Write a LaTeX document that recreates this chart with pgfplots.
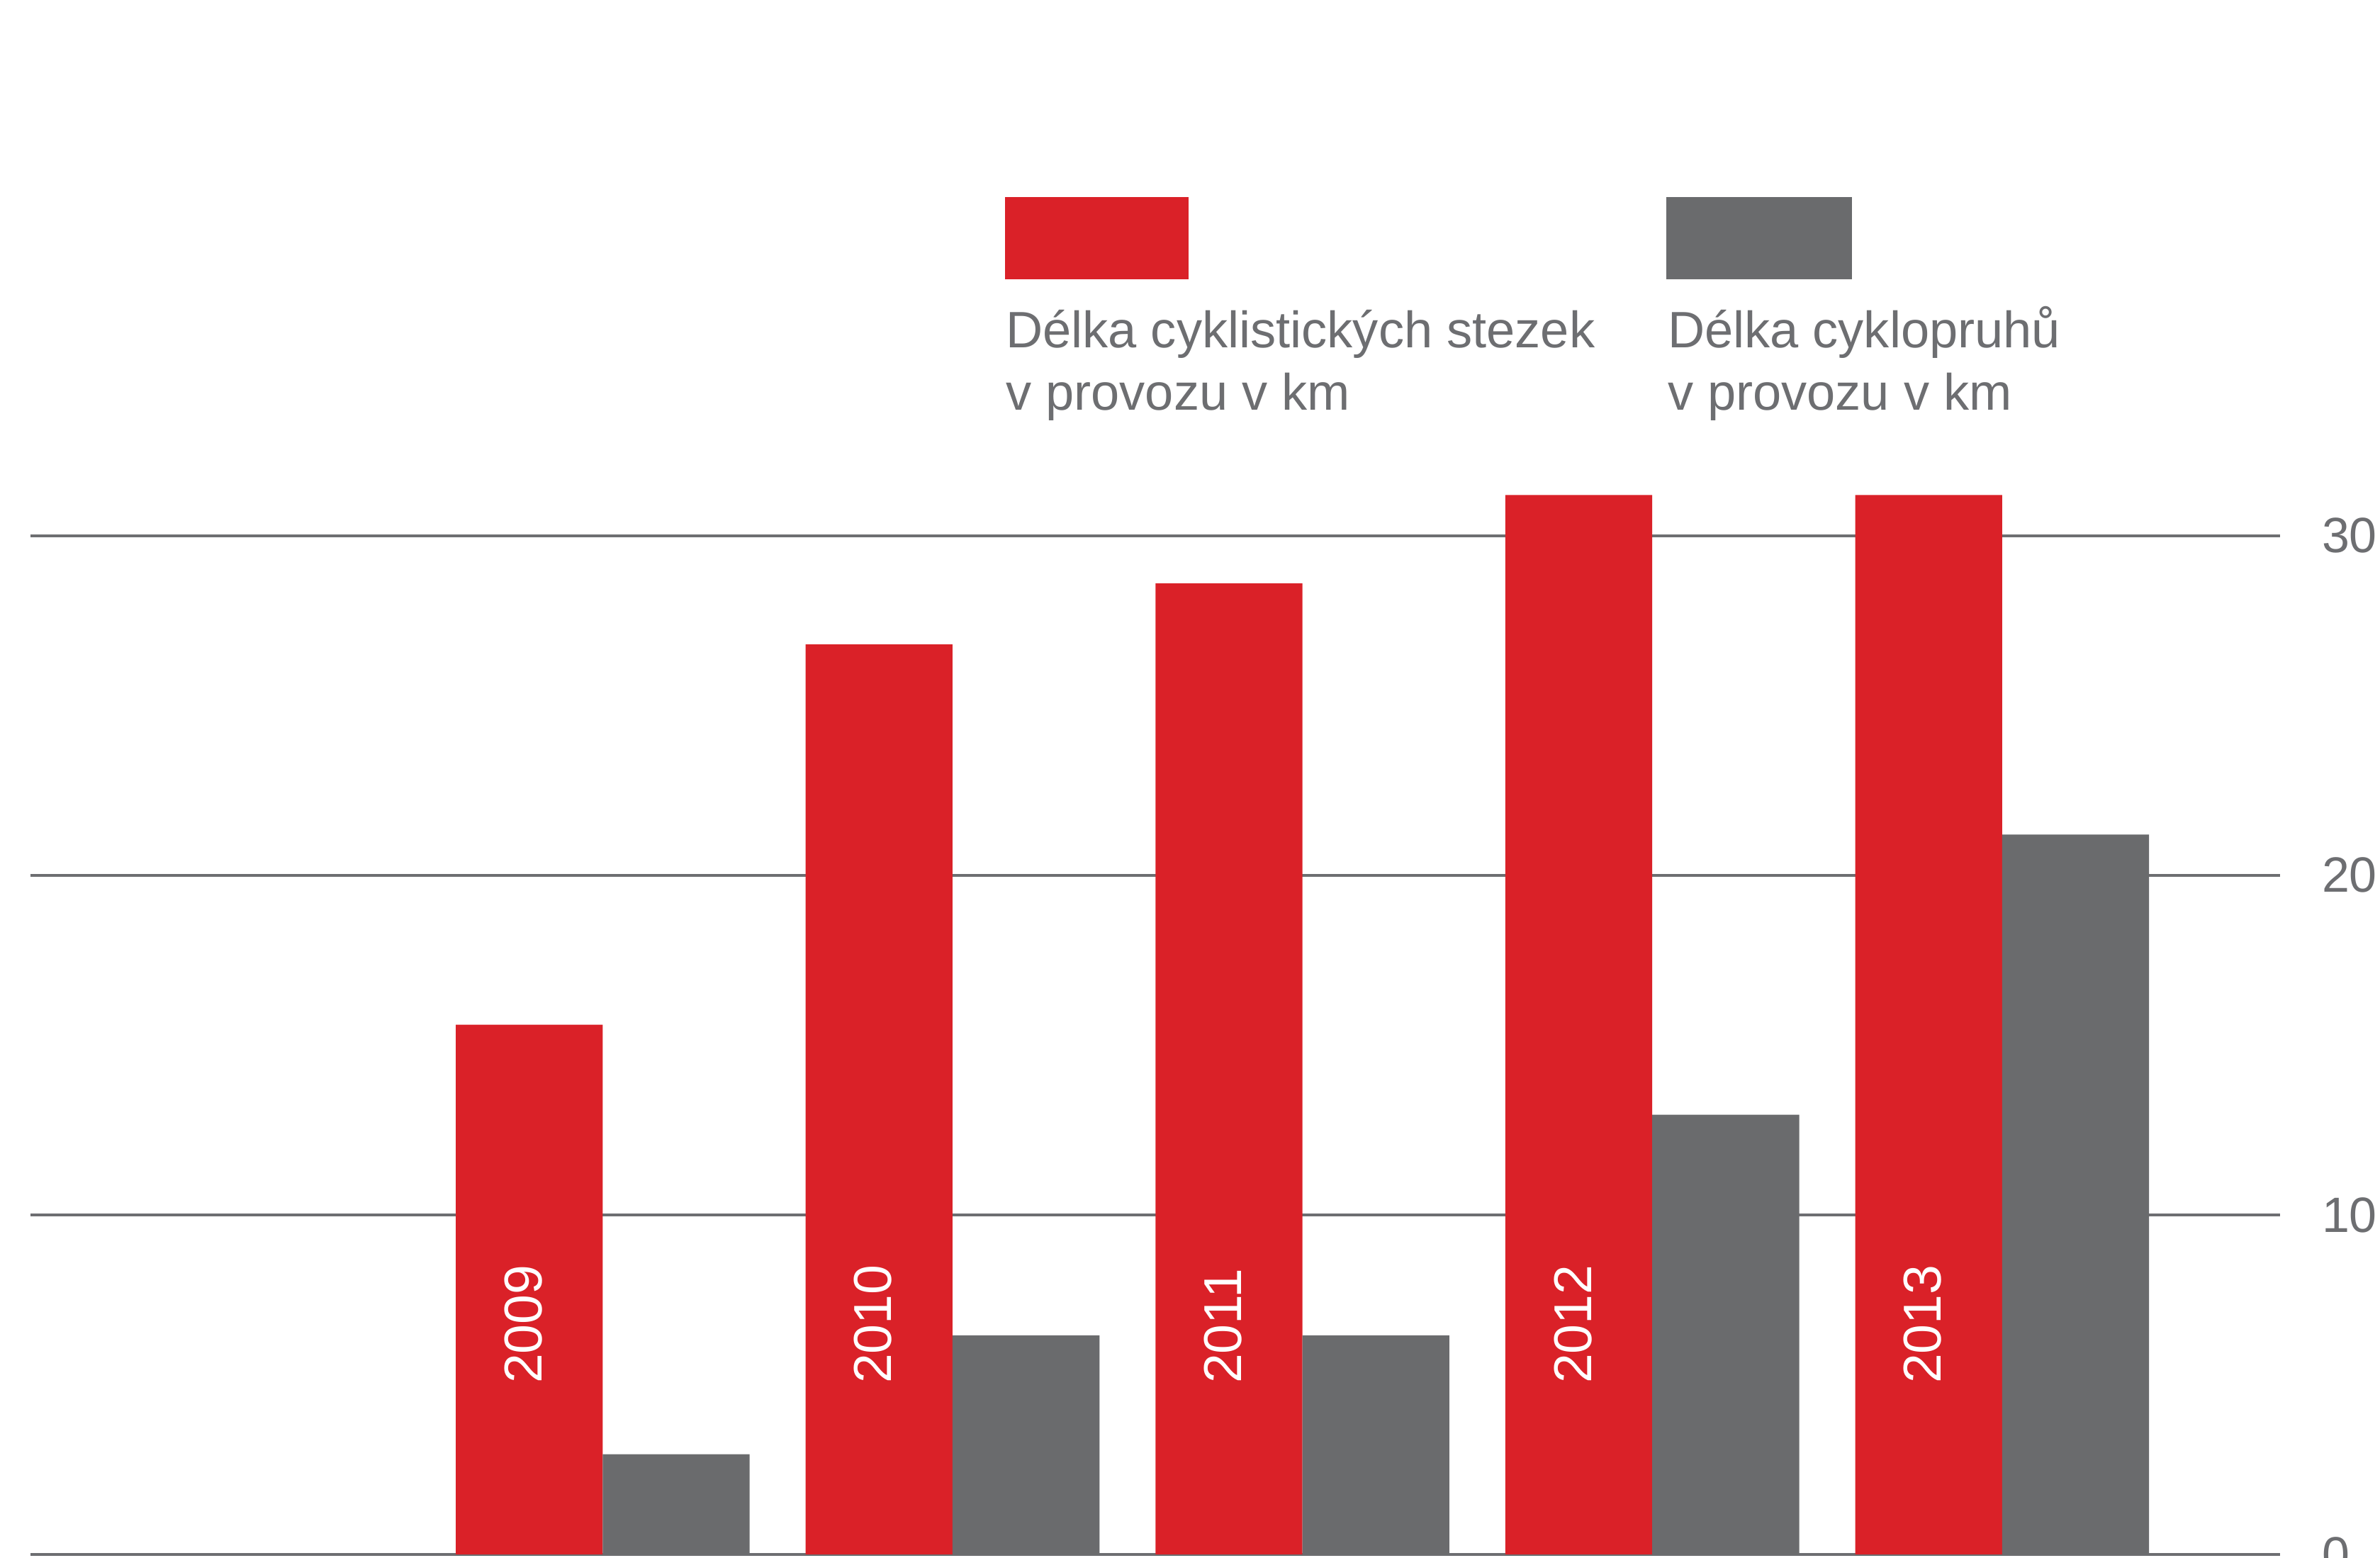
\documentclass[border=0pt]{standalone}
\usepackage{fontspec}
\setmainfont{Liberation Sans}
\usepackage{pgfplots}
\pgfplotsset{compat=1.18}
\definecolor{barRed}{HTML}{DA2128}
\definecolor{barGray}{HTML}{6A6B6D}
\definecolor{textGray}{HTML}{6D6E71}

\begin{document}
\begin{tikzpicture}
\begin{axis}[
  scale only axis,
  width=14.82cm, height=7.829cm,
  xmin=-1.636, xmax=4.794,
  ymin=0, ymax=35,
  enlargelimits=false,
  ybar, bar width=0.42,
  axis line style={draw=none},
  xtick=\empty,
  ytick={0,10,20,30},
  ytick pos=right,
  yticklabel pos=right,
  major tick length=0pt,
  ymajorgrids,
  grid style={textGray, line width=0.6pt},
  tick label style={font=\fontsize{9.3}{11}\selectfont, text=textGray},
  yticklabel style={anchor=west, inner sep=0pt, xshift=0.27cm},
  /pgf/number format/assume math mode=true,
  clip=false,
]
% delka cyklistickych stezek (km)
\addplot[fill=barRed, draw=none, bar shift=-0.21] coordinates {
  (0,15.6) (1,26.8) (2,28.6) (3,31.2) (4,31.2)};
% delka cyklopruhu (km)
\addplot[fill=barGray, draw=none, bar shift=0.21] coordinates {
  (0,2.95) (1,6.45) (2,6.45) (3,12.95) (4,21.2)};

\node[rotate=90, anchor=west, inner sep=0pt, white, font=\fontsize{10}{12}\selectfont] at (axis cs:-0.227,5) {2009};
\node[rotate=90, anchor=west, inner sep=0pt, white, font=\fontsize{10}{12}\selectfont] at (axis cs:0.773,5) {2010};
\node[rotate=90, anchor=west, inner sep=0pt, white, font=\fontsize{10}{12}\selectfont] at (axis cs:1.773,5) {2011};
\node[rotate=90, anchor=west, inner sep=0pt, white, font=\fontsize{10}{12}\selectfont] at (axis cs:2.773,5) {2012};
\node[rotate=90, anchor=west, inner sep=0pt, white, font=\fontsize{10}{12}\selectfont] at (axis cs:3.773,5) {2013};
\end{axis}

\begin{scope}[shift={(current axis.south west)}]
  \fill[barRed] (6.42,8.40) rectangle (7.63,8.94);
  \fill[barGray] (10.78,8.40) rectangle (12.00,8.94);
  \node[anchor=base west, inner sep=0pt, text=textGray, font=\fontsize{9.6}{11.6}\selectfont] at (6.42,7.95) {Délka cyklistických stezek};
  \node[anchor=base west, inner sep=0pt, text=textGray, font=\fontsize{9.6}{11.6}\selectfont] at (6.42,7.54) {v provozu v km};
  \node[anchor=base west, inner sep=0pt, text=textGray, font=\fontsize{9.6}{11.6}\selectfont] at (10.78,7.95) {Délka cyklopruhů};
  \node[anchor=base west, inner sep=0pt, text=textGray, font=\fontsize{9.6}{11.6}\selectfont] at (10.78,7.54) {v provozu v km};
  \pgfresetboundingbox
  \path[use as bounding box] (-0.20,-0.02) rectangle (15.48,10.24);
\end{scope}
\end{tikzpicture}
\end{document}
